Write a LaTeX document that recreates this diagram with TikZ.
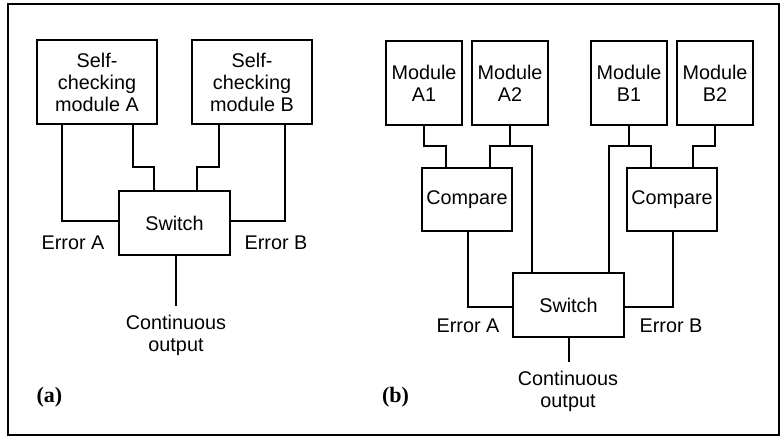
\documentclass[tikz,border=0pt]{standalone}
\usepackage{fontspec}
\setmainfont{Liberation Sans}
\newfontfamily\labelfont{Liberation Serif}
\begin{document}
\begin{tikzpicture}[x=1pt,y=-1pt,
  box/.style={draw,line width=2.4pt,inner sep=0pt,align=center,
    font=\fontsize{19.8}{22}\selectfont},
  mod/.style={box,minimum width=76pt,minimum height=84pt},
  bigmod/.style={box,minimum width=120pt,minimum height=84pt},
  swbox/.style={box,minimum width=111pt,minimum height=64pt},
  cmpbox/.style={box,minimum width=90pt,minimum height=63pt},
  txt/.style={inner sep=0pt,align=center,font=\fontsize{19.8}{22}\selectfont},
  tag/.style={inner sep=0pt,font=\labelfont\bfseries\fontsize{22}{24}\selectfont},
  wire/.style={line width=2pt,line join=miter}]
\useasboundingbox (0,0) rectangle (782,438);
\draw[line width=1.6pt] (8,4) rectangle (779,435);

% ---------- (a) two self-checking modules ----------
\node[bigmod] (ma) at (97,82) {Self-\\checking\\module A};
\node[bigmod] (mb) at (252,82) {Self-\\checking\\module B};
\node[swbox] (swa) at (174.5,223) {Switch};
\node[txt] (outa) at (176,335) {Continuous\\output};
\node[txt] (erra) at (73,243) {Error A};
\node[txt] (errb) at (276,243) {Error B};
\node[tag] (taga) at (49.5,397) {(a)};

\draw[wire] (ma.south -| 62,0) |- (swa.west |- 0,221);
\draw[wire] (ma.south -| 133,0) |- (154,167) -- (swa.north -| 154,0);
\draw[wire] (mb.south -| 219,0) |- (197,167) -- (swa.north -| 197,0);
\draw[wire] (mb.south -| 285,0) |- (swa.east |- 0,221);
\draw[wire] (swa.south -| 176,0) -- (176,306);

% ---------- (b) duplicated modules with comparators ----------
\node[mod] (a1) at (424,83) {Module\\A1};
\node[mod] (a2) at (510,83) {Module\\A2};
\node[mod] (b1) at (629,83) {Module\\B1};
\node[mod] (b2) at (715,83) {Module\\B2};
\node[cmpbox] (ca) at (467,199.5) {Compare};
\node[cmpbox] (cb) at (672,199.5) {Compare};
\node[swbox] (swb) at (568.5,305) {Switch};
\node[txt] (outb) at (568,391) {Continuous\\output};
\node[txt] (errba) at (468,326) {Error A};
\node[txt] (errbb) at (671,326) {Error B};
\node[tag] (tagb) at (395.5,397) {(b)};

\draw[wire] (a1.south) |- (446,146) -- (ca.north -| 446,0);
\draw[wire] (a2.south) |- (490,146) -- (ca.north -| 490,0);
\draw[wire] (a2.south |- 0,146) -| (swb.north -| 532,0);
\draw[wire] (b1.south) |- (609,146) -- (swb.north -| 609,0);
\draw[wire] (b1.south |- 0,146) -| (cb.north -| 651,0);
\draw[wire] (b2.south) |- (693,146) -- (cb.north -| 693,0);
\draw[wire] (ca.south -| 468,0) |- (swb.west |- 0,307);
\draw[wire] (cb.south -| 673,0) |- (swb.east |- 0,307);
\draw[wire] (swb.south) -- (swb.south |- 0,362);
\end{tikzpicture}
\end{document}
